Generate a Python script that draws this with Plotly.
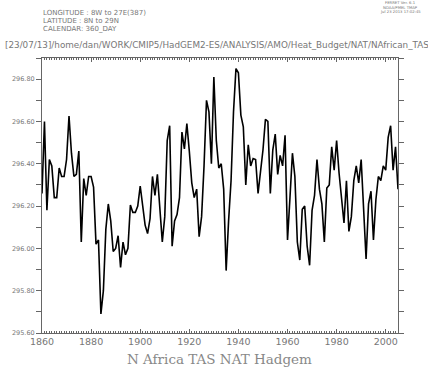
import plotly.graph_objects as go

years = list(range(1860, 2006))
tas = [
    296.26, 296.60, 296.18, 296.42, 296.39, 296.24, 296.24, 296.38, 296.34, 296.34,
    296.42, 296.625, 296.45, 296.34, 296.35, 296.46, 296.03, 296.33, 296.25, 296.34,
    296.34, 296.29, 296.02, 296.04, 295.69, 295.80, 296.09, 296.21, 296.13, 295.985,
    296.00, 296.06, 295.91, 296.03, 295.97, 296.00, 296.205, 296.17, 296.17, 296.20,
    296.295, 296.21, 296.11, 296.07, 296.14, 296.34, 296.25, 296.35, 296.18, 296.03,
    296.15, 296.51, 296.58, 296.01, 296.13, 296.16, 296.24, 296.55, 296.47, 296.59,
    296.46, 296.31, 296.24, 296.28, 296.055, 296.15, 296.39, 296.70, 296.645, 296.40,
    296.81, 296.51, 296.38, 296.40, 296.28, 295.895, 296.13, 296.32, 296.645, 296.85,
    296.83, 296.63, 296.575, 296.30, 296.49, 296.39, 296.425, 296.42, 296.26, 296.35,
    296.465, 296.61, 296.60, 296.26, 296.465, 296.54, 296.35, 296.44, 296.39, 296.535,
    296.04, 296.24, 296.45, 296.34, 296.03, 295.945, 296.185, 296.20, 296.01, 295.92,
    296.18, 296.25, 296.42, 296.28, 296.21, 296.03, 296.285, 296.30, 296.48, 296.37,
    296.51, 296.355, 296.22, 296.12, 296.32, 296.08, 296.15, 296.32, 296.39, 296.31,
    296.42, 296.20, 295.95, 296.21, 296.27, 296.04, 296.23, 296.34, 296.32, 296.39,
    296.37, 296.525, 296.58, 296.37, 296.48, 296.28,
]

x_ticks = [1860, 1880, 1900, 1920, 1940, 1960, 1980, 2000]
y_ticks = [295.6, 295.8, 296.0, 296.2, 296.4, 296.6, 296.8]

header_lines = ["LONGITUDE : 8W to 27E(387)", "LATITUDE : 8N to 29N", "CALENDAR: 360_DAY"]
ferret_lines = ["FERRET Ver. 6.1", "NOAA/PMEL TMAP", "Jul 23 2013 17:02:45"]
path_text = "[23/07/13]/home/dan/WORK/CMIP5/HadGEM2-ES/ANALYSIS/AMO/Heat_Budget/NAT/NAfrican_TAS"
title_text = "N Africa TAS NAT Hadgem"

W, H = 428, 377
L, R, T, B = 33, 398, 58, 333
pw, ph = R - L, B - T

def px(x):
    return (x - L) / pw

def py(y):
    return (B - y) / ph

TXT = "#777777"
AX = "#666666"

fig = go.Figure()
fig.add_trace(go.Scatter(x=years, y=tas, mode="lines",
                         line=dict(color="black", width=1.6), hoverinfo="skip"))
# invisible trace for mirrored top/right axes
fig.add_trace(go.Scatter(x=[years[0]], y=[tas[0]], xaxis="x2", yaxis="y2", mode="markers",
                         marker=dict(opacity=0), hoverinfo="skip"))

annotations = []
for i, t in enumerate(header_lines):
    annotations.append(dict(text=t, x=px(32), y=py(13.5 + 7.8 * i), xref="paper", yref="paper",
                            xanchor="left", yanchor="middle", showarrow=False,
                            font=dict(family="DejaVu Sans", size=7, color=TXT)))
for i, t in enumerate(ferret_lines):
    annotations.append(dict(text=t, x=px(401), y=py(2.6 + 4.6 * i), xref="paper", yref="paper",
                            xanchor="center", yanchor="middle", showarrow=False, borderpad=0,
                            font=dict(family="DejaVu Sans", size=3.8, color=TXT)))
annotations.append(dict(text=path_text, x=px(212), y=py(44.5), xref="paper", yref="paper",
                        xanchor="center", yanchor="middle", showarrow=False,
                        font=dict(family="DejaVu Sans", size=8.8, color=TXT)))
annotations.append(dict(text=title_text, x=px(215), y=py(359), xref="paper", yref="paper",
                        xanchor="center", yanchor="middle", showarrow=False,
                        font=dict(family="DejaVu Serif", size=13.5, color="#888888")))

common_x = dict(range=[1860, 2005], showgrid=False, zeroline=False)
common_y = dict(range=[295.6, 296.9], showgrid=False, zeroline=False)

fig.update_layout(
    width=W, height=H,
    margin=dict(l=L, r=W - R, t=T, b=H - B),
    paper_bgcolor="white", plot_bgcolor="white",
    showlegend=False,
    annotations=annotations,
    xaxis=dict(**common_x, tickvals=x_ticks, ticktext=[str(v) for v in x_ticks],
               ticks="inside", ticklen=4, tickcolor=AX, tickwidth=1,
               showline=True, linecolor=AX, linewidth=1,
               tickfont=dict(family="DejaVu Sans", size=9.5, color=TXT),
               minor=dict(dtick=1, tick0=1860, ticks="inside", ticklen=2, tickcolor=AX, showgrid=False)),
    xaxis2=dict(**common_x, overlaying="x", side="top", anchor="y2",
                tickvals=x_ticks, showticklabels=False,
                ticks="inside", ticklen=4, tickcolor=AX, tickwidth=1,
                showline=True, linecolor=AX, linewidth=1,
                minor=dict(dtick=1, tick0=1860, ticks="inside", ticklen=2, tickcolor=AX, showgrid=False)),
    yaxis=dict(**common_y, tickvals=y_ticks, ticktext=["%.2f" % v for v in y_ticks],
               ticks="outside", ticklen=5, tickcolor=AX, tickwidth=1,
               showline=True, linecolor=AX, linewidth=1,
               tickfont=dict(family="DejaVu Sans", size=6.5, color=TXT),
               minor=dict(dtick=0.1, tick0=295.6, ticks="outside", ticklen=5, tickcolor=AX, showgrid=False)),
    yaxis2=dict(**common_y, overlaying="y", side="right", anchor="x2",
                tickvals=y_ticks, showticklabels=False,
                ticks="outside", ticklen=5, tickcolor=AX, tickwidth=1,
                showline=True, linecolor=AX, linewidth=1,
                minor=dict(dtick=0.1, tick0=295.6, ticks="outside", ticklen=5, tickcolor=AX, showgrid=False)),
)

fig.write_html("out.html", config={"displayModeBar": False},
               post_script="document.body.style.margin='0px';")
